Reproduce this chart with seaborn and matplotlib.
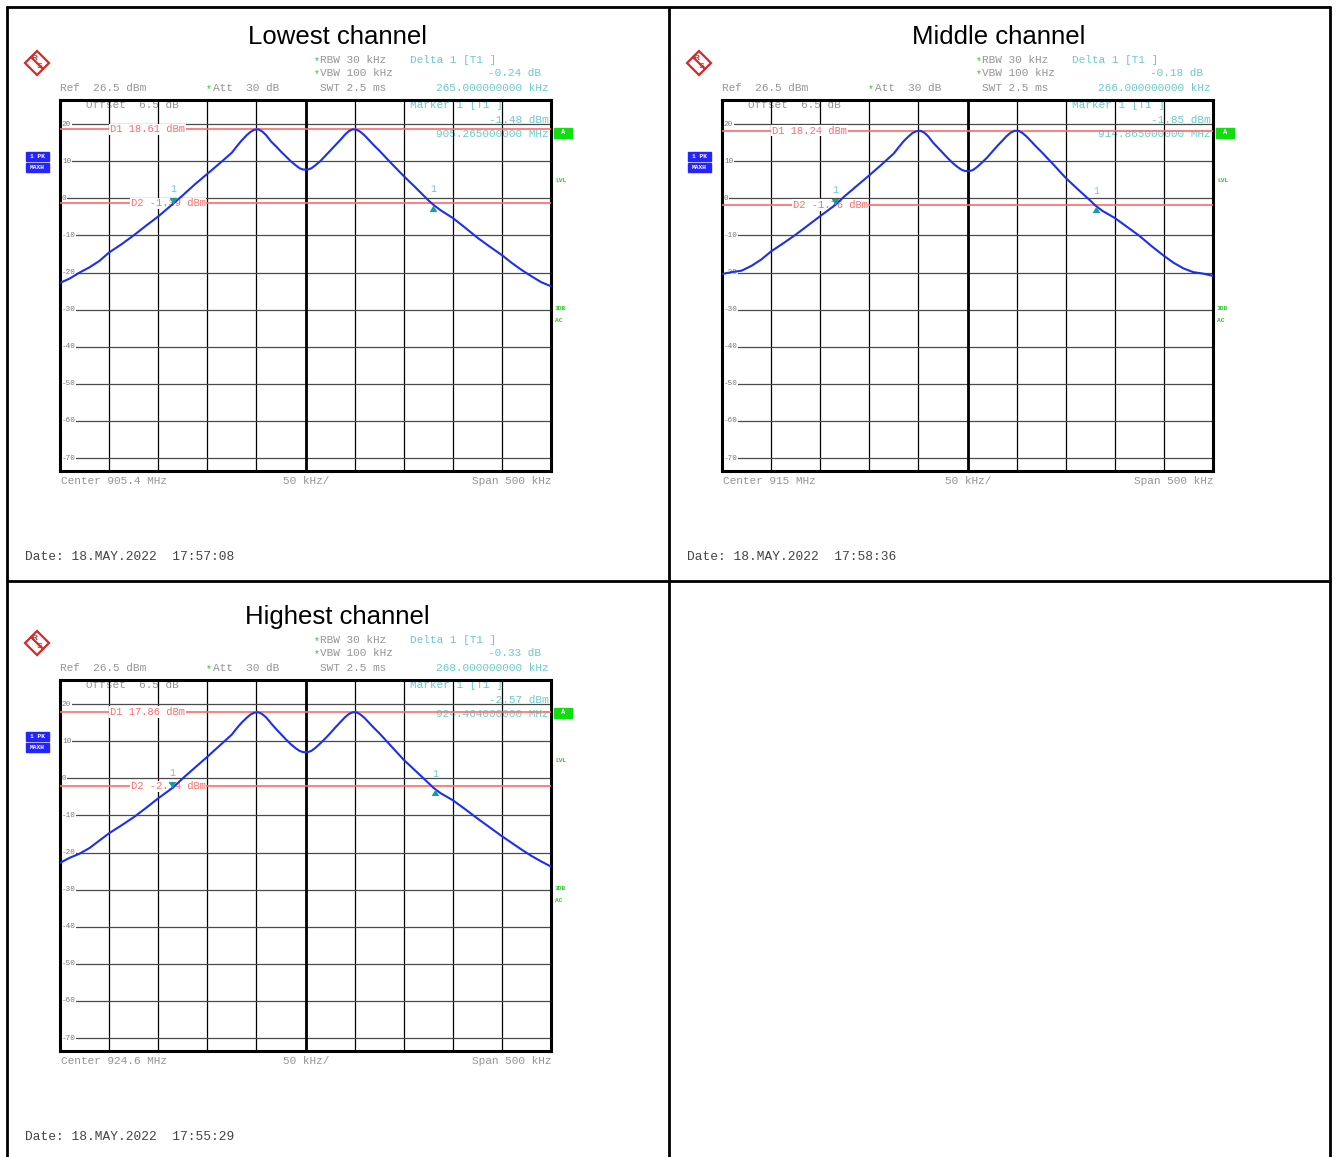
import numpy as np
import pandas as pd
import seaborn as sns
import matplotlib.pyplot as plt
from matplotlib.patches import Rectangle, Polygon

# Spectrum analyser screenshots: 3 channels, two-peak signal
W, H = 1336, 1157

TITLES = ["Lowest channel", "Middle channel", "Highest channel"]
CENTERS = ["905.4 MHz", "915 MHz", "924.6 MHz"]
DATES = ["18.MAY.2022  17:57:08", "18.MAY.2022  17:58:36", "18.MAY.2022  17:55:29"]
D1_DBM = [18.61, 18.24, 17.86]
D2_DBM = [-1.39, -1.76, -2.14]
MARKER_KHZ = [-135, -135, -136]
MARKER_DBM = [-1.48, -1.85, -2.57]
MARKER_FREQ = ["905.265000000 MHz", "914.865000000 MHz", "924.464000000 MHz"]
DELTA_KHZ = [265, 266, 268]
DELTA_DB = [-0.24, -0.18, -0.33]

FREQ_KHZ = [-250, -240, -230, -220, -210, -200, -187.5, -175, -162.5, -150,
            -135, -125, -112.5, -100, -87.5, -75,
            -70, -65, -60, -56, -52, -48, -44, -40, -35, -30, -25, -20, -15, -10, -6, -3,
            0,
            3, 6, 10, 15, 20, 25, 30, 35, 40, 44, 48, 52, 56, 60, 65, 70, 75,
            87.5, 100, 112.5, 125, 130, 137.5, 150, 162.5, 175, 187.5,
            200, 210, 220, 230, 240, 250]

LEVEL_LOW = [-22.8, -21.6, -20.0, -18.6, -16.9, -14.6, -12.4, -10.0, -7.4, -4.9,
             -1.5, 0.8, 3.8, 6.6, 9.4, 12.3,
             14.0, 15.6, 17.0, 17.9, 18.5, 18.6, 18.0, 17.0, 15.3, 14.0, 12.6, 11.3, 10.0, 8.9, 8.1, 7.8,
             7.7,
             7.8, 8.1, 8.9, 10.0, 11.4, 12.8, 14.2, 15.6, 17.1, 18.1, 18.6, 18.5, 17.9, 17.0, 15.6, 14.2, 12.9,
             9.4, 6.0, 2.8, -0.5, -1.7, -3.2, -5.3, -7.9, -10.6, -13.0,
             -15.3, -17.4, -19.3, -21.0, -22.6, -23.7]

LEVEL_MID = [-20.4, -19.9, -19.5, -18.2, -16.5, -14.3, -12.1, -9.8, -7.3, -4.8,
             -1.85, 0.6, 3.4, 6.2, 9.1, 12.1,
             13.8, 15.4, 16.7, 17.6, 18.1, 18.2, 17.7, 16.7, 15.0, 13.6, 12.2, 10.8, 9.5, 8.4, 7.7, 7.4,
             7.3,
             7.4, 7.7, 8.5, 9.7, 11.0, 12.5, 14.0, 15.4, 16.8, 17.7, 18.2, 18.2, 17.6, 16.7, 15.3, 13.9, 12.6,
             9.1, 5.5, 2.4, -0.6, -1.9, -3.4, -5.3, -7.7, -10.1, -12.9,
             -15.5, -17.4, -18.9, -19.9, -20.3, -20.9]

LEVEL_HIGH = [-22.8, -21.4, -20.3, -18.8, -16.8, -14.8, -12.7, -10.5, -8.0, -5.4,
              -2.5, 0.0, 2.9, 5.8, 8.8, 11.8,
              13.5, 15.0, 16.3, 17.2, 17.7, 17.8, 17.3, 16.4, 14.8, 13.3, 11.9, 10.5, 9.2, 8.1, 7.4, 7.1,
              7.0,
              7.1, 7.4, 8.2, 9.4, 10.7, 12.1, 13.6, 15.0, 16.4, 17.3, 17.8, 17.8, 17.2, 16.3, 14.9, 13.5, 12.2,
              8.6, 5.0, 1.9, -1.2, -2.5, -4.0, -5.9, -8.3, -10.8, -13.2,
              -15.6, -17.4, -19.2, -20.9, -22.4, -23.8]

LEVELS = [LEVEL_LOW, LEVEL_MID, LEVEL_HIGH]
PANEL_XY = [(0, 0), (662, 0), (0, 580)]

sns.set_style("white")
plt.rcParams['font.family'] = ['Liberation Sans', 'DejaVu Sans']
MONO = 'Liberation Mono'
GRAY = '#959595'
TEAL = '#6ccaca'
TEAL_DARK = '#1a9c9c'
RED = '#ff6b6b'
BLUE = '#1b30ee'
GREEN = '#22cc22'

fig = plt.figure(figsize=(W / 100, H / 100), dpi=100)
bg = fig.add_axes([0, 0, 1, 1], zorder=0)
bg.set_xlim(0, W)
bg.set_ylim(H, 0)
bg.axis('off')

# page borders
for xs, ys in [([7, 1330], [7, 7]), ([7, 7], [7, H]), ([1330, 1330], [7, H]),
               ([669, 669], [7, H]), ([7, 1330], [581, 581])]:
    bg.plot(xs, ys, color='black', lw=2)


def mono(x, y, s, color=GRAY, size=8, **kw):
    bg.text(x, y, s, color=color, fontsize=size, family=MONO, va='center', **kw)


tri_down = [(-1, 1.7), (1, 1.7), (0, 0)]
tri_up = [(-1, -1.7), (1, -1.7), (0, 0)]

for i, (dx, dy) in enumerate(PANEL_XY):
    # header
    bg.text(337 + dx, 37 + dy, TITLES[i], fontsize=18.5, ha='center', va='center', color='black')
    cx, cy = 37 + dx, 63 + dy
    bg.add_patch(Polygon([(cx, cy - 12), (cx + 12, cy), (cx, cy + 12), (cx - 12, cy)],
                         closed=True, facecolor='white', edgecolor='#d42a2a', lw=1.6))
    bg.plot([cx - 6, cx + 6], [cy - 6, cy + 6], color='#d42a2a', lw=1.6)
    bg.text(cx - 2, cy - 4, "R", color='#d42a2a', fontsize=6, weight='bold', ha='center', va='center')
    bg.text(cx + 3, cy + 3, "S", color='#d42a2a', fontsize=6, weight='bold', ha='center', va='center')

    mono(314 + dx, 61 + dy, "*", color=GREEN, size=7)
    mono(320 + dx, 60 + dy, "RBW 30 kHz")
    mono(314 + dx, 74 + dy, "*", color=GREEN, size=7)
    mono(320 + dx, 73 + dy, "VBW 100 kHz")
    mono(60 + dx, 88 + dy, "Ref  26.5 dBm")
    mono(206 + dx, 89 + dy, "*", color=GREEN, size=7)
    mono(213 + dx, 88 + dy, "Att  30 dB")
    mono(320 + dx, 88 + dy, "SWT 2.5 ms")
    mono(410 + dx, 60 + dy, "Delta 1 [T1 ]", color=TEAL)
    mono(541 + dx, 73 + dy, f"{DELTA_DB[i]:.2f} dB", color=TEAL, ha='right')
    mono(549 + dx, 88 + dy, f"{DELTA_KHZ[i]:.9f} kHz", color=TEAL, ha='right')

    # inside the graticule
    mono(86 + dx, 105 + dy, "Offset  6.5 dB")
    mono(410 + dx, 105 + dy, "Marker 1 [T1 ]", color=TEAL)
    mono(549 + dx, 120 + dy, f"{MARKER_DBM[i]:.2f} dBm", color=TEAL, ha='right')
    mono(549 + dx, 134 + dy, MARKER_FREQ[i], color=TEAL, ha='right')

    # side boxes
    bg.add_patch(Rectangle((26 + dx, 152 + dy), 23, 9, color='#2424ff'))
    bg.text(37.5 + dx, 156.5 + dy, "1 PK", color='white', fontsize=4.5, family=MONO,
            weight='bold', ha='center', va='center')
    bg.add_patch(Rectangle((26 + dx, 163 + dy), 23, 9, color='#2424ff'))
    bg.text(37.5 + dx, 167.5 + dy, "MAXH", color='white', fontsize=4.5, family=MONO,
            weight='bold', ha='center', va='center')
    bg.add_patch(Rectangle((554 + dx, 128 + dy), 18, 10, color='#11dd11'))
    bg.text(563 + dx, 133 + dy, "A", color='white', fontsize=5, family=MONO,
            weight='bold', ha='center', va='center')
    for yy, s in [(180, "LVL"), (309, "3DB"), (320, "AC")]:
        bg.text(555 + dx, yy + dy, s, color=GREEN, fontsize=4.5, family=MONO,
                weight='bold', va='center')

    # footer
    mono(61 + dx, 481 + dy, f"Center {CENTERS[i]}")
    mono(283 + dx, 481 + dy, "50 kHz/")
    mono(551 + dx, 481 + dy, "Span 500 kHz", ha='right')
    mono(25 + dx, 557 + dy, f"Date: {DATES[i]}", color='#444444', size=9.3)

    # graticule and trace
    ax = fig.add_axes([(60 + dx) / W, 1 - (471 + dy) / H, 491 / W, 371 / H], zorder=2)
    ax.patch.set_alpha(0)
    ax.set_xlim(-250, 250)
    ax.set_ylim(-73.5, 26.5)
    ax.set_xticks(range(-200, 201, 50))
    ax.set_yticks(range(-70, 21, 10))
    ax.tick_params(length=0, labelbottom=False, labelleft=False)
    ax.grid(axis='x', color='black', lw=0.9)
    ax.grid(axis='y', color='#4a4a4a', lw=0.9)
    ax.axvline(0, color='black', lw=2)
    for sp in ax.spines.values():
        sp.set_color('black')
        sp.set_linewidth(2.2)
    for gy in range(-70, 21, 10):
        ax.text(-248, gy, str(gy), fontsize=5.5, family=MONO, color='#777777', va='center',
                bbox=dict(facecolor='white', edgecolor='none', pad=0.3), zorder=3)

    ax.axhline(D1_DBM[i], color=RED, lw=1.2, zorder=3)
    ax.axhline(D2_DBM[i], color=RED, lw=1.2, zorder=3)
    ax.text(-199, D1_DBM[i], f"D1 {D1_DBM[i]:.2f} dBm", fontsize=7.5, family=MONO, color=RED,
            va='center', bbox=dict(facecolor='white', edgecolor='none', pad=0.5), zorder=3.5)
    ax.text(-178, D2_DBM[i], f"D2 {D2_DBM[i]:.2f} dBm", fontsize=7.5, family=MONO, color=RED,
            va='center', bbox=dict(facecolor='white', edgecolor='none', pad=0.5), zorder=3.5)

    df = pd.DataFrame({"khz": FREQ_KHZ, "dbm": LEVELS[i]})
    sns.lineplot(data=df, x="khz", y="dbm", ax=ax, color=BLUE, lw=1.5, zorder=4)
    ax.set_xlabel("")
    ax.set_ylabel("")

    mk_x, mk_y = MARKER_KHZ[i], MARKER_DBM[i]
    dl_x, dl_y = mk_x + DELTA_KHZ[i], mk_y + DELTA_DB[i]
    ax.scatter([mk_x], [mk_y], marker=tri_down, s=90, color=TEAL_DARK, zorder=5, lw=0)
    ax.scatter([dl_x], [dl_y], marker=tri_up, s=90, color=TEAL_DARK, zorder=5, lw=0)
    for px, py in [(mk_x, mk_y), (dl_x, dl_y)]:
        ax.annotate("1", (px, py), xytext=(0, 11), textcoords='offset points', ha='center',
                    va='center', fontsize=7, family=MONO, color=TEAL, zorder=6)

fig.savefig("out.png", dpi=100)
